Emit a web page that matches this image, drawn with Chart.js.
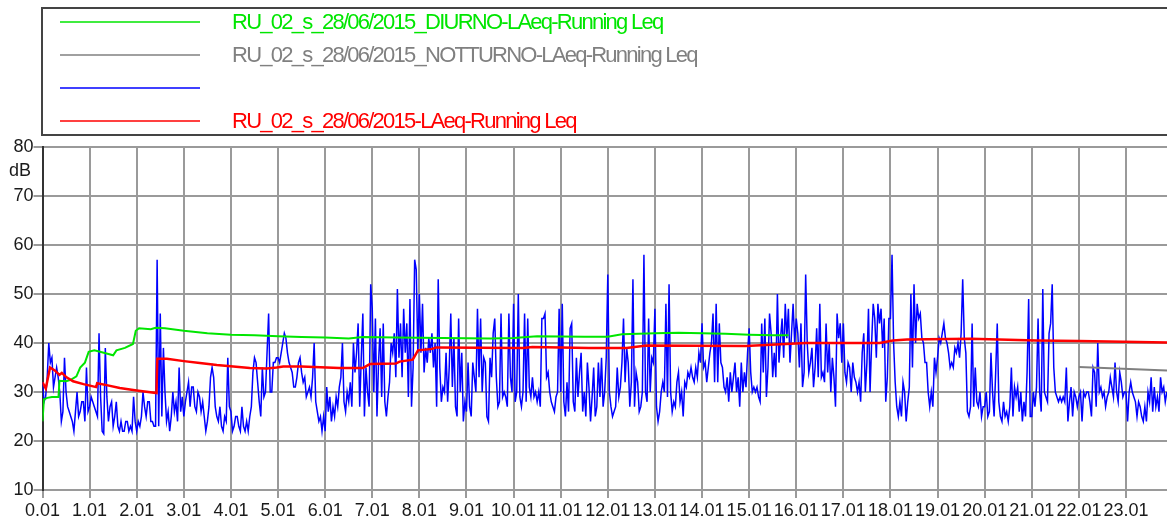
<!DOCTYPE html>
<html>
<head>
<meta charset="utf-8">
<script src="https://cdn.jsdelivr.net/npm/chart.js@4.4.1/dist/chart.umd.min.js"></script>
<style>
  html, body { margin: 0; padding: 0; background: #ffffff; }
</style>
</head>
<body>
<canvas id="leqChart" width="1167" height="525"></canvas>
<script>
'use strict'

// series names, in legend order
const seriesLabels = [
  'RU_02_s_28/06/2015_DIURNO-LAeq-Running Leq',
  'RU_02_s_28/06/2015_NOTTURNO-LAeq-Running Leq',
  '',
  'RU_02_s_28/06/2015-LAeq-Running Leq'
]
const seriesColors = ['#00e600', '#808080', '#0000ff', '#ff0000']

const samplesPerHour = 30
const xMaxHours = 23.87

// LAeq 2-minute samples, one row per hour (0.01 .. 23.01)
const laeqLevels = [
  32, 28, 29, 33, 40, 36, 37, 31, 33, 35, 33, 30, 24, 26, 37, 30, 27, 26, 25, 24, 22, 26, 30, 25, 26, 28, 28, 24, 35, 26,
  27, 29, 28, 27, 26, 25, 42, 29, 22, 21.5, 39, 29, 24, 27, 28, 23, 25, 28, 23, 22, 24, 22, 22, 24, 24, 22, 23, 22, 29, 24,
  22, 24, 23, 25, 30, 27, 25, 28, 28, 24, 24, 23, 23, 57, 23, 46, 25, 39, 30, 24, 26, 22, 25, 30, 26, 28, 24, 35, 26, 29,
  25, 28, 30, 32, 27, 31, 31, 27, 26, 30, 29, 26, 28, 25, 22, 24, 27, 33, 35, 33, 27, 25, 24, 27, 23, 22, 25, 24, 37, 27,
  26, 22, 23, 25, 25, 23, 22, 27, 23, 22, 24, 22, 25, 27, 34, 37, 36, 32, 28, 25, 35, 29, 30, 38, 46, 30, 30, 36, 36, 37,
  37, 36, 38, 40, 42, 41, 38, 36, 35, 34, 31, 31, 33, 36, 37, 34, 32, 33, 29, 30, 31, 29, 33, 40, 28, 26, 24, 25, 22, 25,
  22, 31, 26, 29, 24, 27, 25, 29, 27, 31, 33, 40, 28, 26, 30, 28, 32, 27, 40, 34, 38, 44, 27, 37, 46, 25, 35, 30, 27, 52,
  47, 30, 45, 25, 36, 43, 29, 44, 28, 25, 29, 32, 40, 38, 42, 33, 51, 37, 44, 33, 47, 38, 44, 29, 49, 27, 35, 57, 55, 38,
  50, 38, 48, 34, 39, 36, 41, 38, 42, 35, 40, 27, 53, 35, 28, 31, 30, 38, 28, 35, 46, 31, 41, 27, 25, 45, 30, 38, 24, 28,
  26, 36, 27, 25, 36, 33, 30, 47, 33, 45, 30, 37, 36, 25, 24, 37, 33, 42, 45, 33, 27, 28, 46, 29, 30, 29, 27, 46, 33, 30,
  48, 28, 30, 50, 29, 27, 30, 46, 28, 45, 31, 29, 33, 29, 30, 28, 30, 27, 45, 45, 46, 33, 34, 30, 28, 27, 26, 29, 30, 47,
  30, 48, 28, 25, 32, 26, 43, 44, 28, 26, 37, 29, 34, 38, 26, 30, 25, 36, 31, 24, 29, 35, 25, 27, 36, 29, 37, 27, 30, 37,
  54, 30, 27, 25, 26, 27, 35, 29, 31, 36, 45, 32, 39, 36, 27, 32, 53, 27, 34, 32, 26, 27, 30, 58, 30, 28, 45, 30, 37, 36,
  47, 27, 24, 26, 30, 32, 30, 48, 29, 52, 30, 26, 28, 27, 32, 34, 28, 30, 25, 32, 31, 34, 33, 35, 33, 32, 35, 33, 38, 36,
  44, 35, 36, 32, 35, 38, 40, 46, 32, 48, 32, 44, 36, 35, 31, 30, 33, 28, 34, 30, 33, 36, 30, 33, 27, 36, 30, 34, 31, 38,
  43, 34, 30, 31, 30, 31, 29, 28, 44, 34, 45, 29, 35, 46, 42, 33, 38, 33, 50, 36, 41, 45, 37, 48, 41, 47, 36, 42, 48, 40,
  45, 42, 35, 44, 31, 34, 54, 40, 34, 36, 39, 31, 35, 43, 33, 48, 33, 34, 32, 44, 34, 40, 30, 37, 33, 27, 46, 41, 44, 36,
  44, 34, 32, 36, 35, 30, 36, 33, 32, 30, 32, 28, 38, 42, 30, 36, 47, 30, 40, 48, 45, 37, 48, 44, 47, 39, 45, 28, 33, 45,
  45, 58, 40, 32, 27, 25, 28, 25, 32, 30, 24, 28, 31, 50, 35, 52, 40, 48, 45, 46, 41, 40, 36, 36, 30, 27, 30, 27, 37, 34,
  37, 41, 40, 42, 44, 41, 40, 38, 35, 36, 35, 39, 38, 40, 37, 42, 53, 41, 38, 26, 25, 27, 44, 27, 35, 28, 27, 30, 25, 27,
  27, 30, 25, 26, 38, 30, 25, 34, 44, 28, 25, 24, 28, 25, 26, 24, 27, 35, 25, 31, 29, 31, 26, 30, 24, 28, 25, 34, 49, 25,
  25, 30, 27, 31, 45, 30, 26, 51, 30, 29, 28, 42, 44, 52, 35, 30, 29, 28, 29, 28, 29, 28, 35, 24, 28, 31, 25, 30, 29, 27,
  29, 30, 24, 30, 29, 30, 30, 28, 25, 35, 34, 27, 40, 30, 31, 29, 30, 27, 29, 30, 33, 31, 29, 36, 30, 28, 34, 32, 29, 30,
  30, 24, 30, 32, 30, 29, 28, 25, 28, 27, 25, 24, 27, 24, 30, 28, 33, 26, 31, 27, 29, 26, 33, 30, 31, 28, 30
]

// [hours, dB]
const diurnoLeq = [
  [0, 24], [0.03, 28.5], [0.1, 28.8], [0.2, 29], [0.34, 29], [0.36, 32.3],
  [0.5, 32.2], [0.6, 32.5], [0.72, 33.2], [0.8, 35], [0.9, 36], [0.98, 38.2],
  [1.1, 38.5], [1.3, 38], [1.5, 37.5], [1.57, 38.5], [1.75, 39], [1.92, 39.8],
  [1.98, 42.5], [2.05, 43], [2.3, 42.8], [2.4, 43.1], [2.6, 43], [3.0, 42.5],
  [3.5, 42.0], [4.0, 41.7], [4.5, 41.6], [5.0, 41.4], [5.5, 41.2], [6.0, 41.1],
  [6.5, 40.9], [6.8, 41.2], [7.5, 41.1], [8.5, 41.0], [9.5, 40.9], [10.0, 41.0],
  [10.5, 41.4], [11.5, 41.3], [12.0, 41.3], [12.3, 41.8], [13.0, 42.0], [13.5, 42.1],
  [14.0, 42.0], [14.5, 41.9], [15.0, 41.7], [15.5, 41.6], [15.84, 41.6]
]
const notturnoLeq = [[22, 35.1], [23.87, 34.4]]
const runningLeq = [
  [0, 32], [0.07, 30.7], [0.16, 35], [0.26, 34.4], [0.36, 33.5], [0.41, 33.9],
  [0.51, 33], [0.65, 32.2], [0.87, 31.6], [1.14, 31], [1.16, 31.8], [1.36, 31.4],
  [1.64, 30.8], [2.0, 30.3], [2.42, 29.8], [2.436, 36.8], [2.64, 36.8], [3.0, 36.3],
  [3.34, 35.9], [3.7, 35.5], [4.05, 35.2], [4.4, 34.9], [4.76, 34.8], [4.97, 35],
  [5.11, 35.2], [5.5, 35.2], [6.3, 34.9], [6.8, 34.9], [6.95, 35.7], [7.5, 35.8],
  [7.58, 36.2], [7.86, 36.6], [7.97, 38.5], [8.27, 38.8], [8.36, 39.1], [10.2, 39.0],
  [10.4, 39.2], [11.6, 39.0], [12.4, 39.0], [12.82, 39.5], [14.93, 39.4], [16.2, 40.0],
  [17.77, 40.0], [18.05, 40.5], [18.35, 40.7], [19.7, 40.85], [21.1, 40.5], [22, 40.4],
  [23.87, 40.1]
]

;(function () {
  const tickFont = {
    family: '"Liberation Sans", Arial, sans-serif',
    size: 18
  }
  const gridGray = '#9a9a9a'

  const toPoints = (rows) => rows.map(([x, y]) => ({ x, y }))

  // boxed legend above the plot, plus the "dB" unit under the 80 tick
  const legendBox = {
    id: 'legendBox',
    afterDraw(chart) {
      const ctx = chart.ctx
      ctx.save()
      ctx.strokeStyle = '#444444'
      ctx.lineWidth = 2
      ctx.strokeRect(42, 8, 1140, 127)

      chart.data.datasets.forEach((ds, i) => {
        const rowY = 22 + i * 33
        ctx.strokeStyle = ds.borderColor
        ctx.lineWidth = 1.5
        ctx.beginPath()
        ctx.moveTo(60, rowY)
        ctx.lineTo(200, rowY)
        ctx.stroke()

        ctx.fillStyle = ds.borderColor
        ctx.font = '22px "Liberation Sans", Arial, sans-serif'
        ctx.letterSpacing = '-1.75px'
        ctx.textBaseline = 'middle'
        ctx.textAlign = 'left'
        ctx.fillText(ds.label, 232, rowY + 1)
      })

      ctx.letterSpacing = '0px'
      ctx.fillStyle = '#1a1a1a'
      ctx.font = '18px "Liberation Sans", Arial, sans-serif'
      ctx.textBaseline = 'middle'
      ctx.fillText('dB', 9, 171)
      ctx.restore()
    }
  }

  new Chart(document.getElementById('leqChart'), {
    type: 'line',
    data: {
      datasets: [
        {
          label: seriesLabels[0],
          data: toPoints(diurnoLeq),
          borderColor: seriesColors[0],
          borderWidth: 2,
          order: 1
        },
        {
          label: seriesLabels[1],
          data: toPoints(notturnoLeq),
          borderColor: seriesColors[1],
          borderWidth: 2,
          order: 2
        },
        {
          label: seriesLabels[2],
          data: laeqLevels.map((v, i) => ({ x: i / samplesPerHour, y: v })),
          borderColor: seriesColors[2],
          borderWidth: 1.5,
          order: 3
        },
        {
          label: seriesLabels[3],
          data: toPoints(runningLeq),
          borderColor: seriesColors[3],
          borderWidth: 2.5,
          order: 0
        }
      ]
    },
    options: {
      responsive: false,
      animation: false,
      devicePixelRatio: 1,
      elements: {
        point: { radius: 0 },
        line: { tension: 0 }
      },
      layout: {
        padding: { top: 147, left: 0, right: 0, bottom: 0 }
      },
      scales: {
        x: {
          type: 'linear',
          min: 0,
          max: xMaxHours,
          afterFit(scale) {
            scale.height = 35
          },
          grid: { color: gridGray, lineWidth: 2, tickLength: 8 },
          border: { color: gridGray, width: 2 },
          ticks: {
            stepSize: 1,
            includeBounds: false,
            autoSkip: false,
            maxRotation: 0,
            minRotation: 0,
            padding: 2,
            color: '#1a1a1a',
            font: tickFont,
            callback: (v) => (Number.isInteger(v) ? v + '.01' : '')
          }
        },
        y: {
          min: 10,
          max: 80,
          afterFit(scale) {
            scale.width = 42.5
          },
          grid: { color: gridGray, lineWidth: 2, tickLength: 9 },
          border: { color: '#333333', width: 2 },
          ticks: {
            stepSize: 10,
            padding: 0,
            color: '#1a1a1a',
            font: tickFont
          }
        }
      },
      plugins: {
        legend: { display: false },
        tooltip: { enabled: false }
      }
    },
    plugins: [legendBox]
  })
})()
</script>
</body>
</html>
